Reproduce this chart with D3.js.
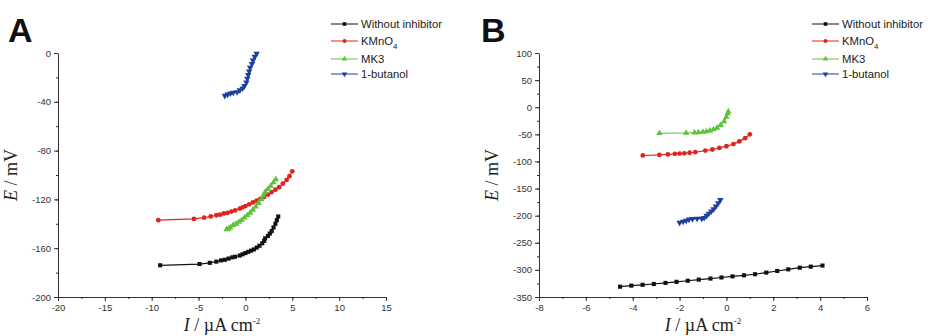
<!DOCTYPE html>
<html>
<head>
<meta charset="utf-8">
<script src="https://cdn.jsdelivr.net/npm/d3@7"></script>
<style>
  body { margin: 0; background: #fff; }
  svg { display: block; }
  .tick text { font-family: "Liberation Sans", Arial, sans-serif; font-size: 9.5px; fill: #333; }
  .axis path, .axis line { stroke: #333; }
  .legend text { font-family: "Liberation Sans", Arial, sans-serif; font-size: 11.3px; fill: #222; }
  .alabel { font-family: "Liberation Serif", "Times New Roman", serif; font-size: 18px; fill: #222; }
  .panel { font-family: "Liberation Sans", Arial, sans-serif; font-weight: bold; font-size: 34px; fill: #111; }
</style>
</head>
<body>
<svg id="chart" width="928" height="336"></svg>
<script>
// series names
const seriesNames = ["Without inhibitor", "KMnO4", "MK3", "1-butanol"]

// panel A data: [I (µA cm-2), E (mV)]
const aBlank = [[-9.1,-174],[-4.9,-173],[-3.8,-172],[-3.1,-171],[-2.6,-170],[-2.2,-169.5],[-1.8,-168.5],[-1.4,-167.5],[-1.1,-167],[-0.6,-166],[-0.3,-165],[0,-164],[0.3,-163],[0.6,-162],[0.9,-161],[1.2,-159.5],[1.5,-158],[1.8,-156],[2.0,-154],[2.1,-152],[2.4,-150],[2.6,-148],[2.8,-146],[3.0,-143],[3.2,-140],[3.35,-137],[3.5,-134]]
const aKMnO4 = [[-9.3,-137],[-5.5,-136],[-4.4,-135],[-3.7,-134],[-3.1,-133],[-2.7,-132.5],[-2.3,-131.5],[-1.9,-131],[-1.5,-130],[-1.1,-129],[-0.6,-127.5],[-0.3,-126.5],[0,-125.5],[0.4,-124],[0.8,-122.5],[1.2,-121],[1.6,-119.5],[2.0,-118],[2.4,-116],[2.8,-114],[3.2,-112],[3.6,-110],[4.0,-107],[4.4,-104],[4.7,-101],[5.0,-97]]
const aMK3 = [[-2.0,-144.5],[-1.8,-144],[-1.6,-143],[-1.3,-141],[-1.0,-140],[-0.7,-138.5],[-0.4,-137],[-0.1,-135],[0.2,-133],[0.5,-131],[0.8,-128.5],[1.1,-126],[1.4,-123],[1.7,-120],[1.9,-117],[2.1,-114],[2.4,-111.5],[2.7,-109],[3.0,-106],[3.25,-103.5]]
const aButanol = [[-2.2,-35],[-1.9,-34],[-1.6,-33],[-1.3,-32.5],[-0.9,-32],[-0.6,-30.5],[-0.3,-29],[-0.1,-27],[0.1,-24],[0.2,-21],[0.3,-18],[0.4,-15],[0.5,-12],[0.7,-9],[0.8,-6],[1.0,-3],[1.2,-0.5]]

// panel B data
const bBlank = [[-4.54,-331],[-4.06,-329],[-3.58,-327.5],[-3.1,-326],[-2.6,-324],[-2.13,-322],[-1.65,-320],[-1.18,-318],[-0.68,-316],[-0.21,-314],[0.26,-312],[0.75,-310],[1.22,-308],[1.7,-305],[2.17,-302],[2.64,-299],[3.13,-296],[3.6,-294],[4.1,-292]]
const bKMnO4 = [[-3.57,-89],[-2.86,-88],[-2.5,-87],[-2.2,-86],[-2.0,-85.5],[-1.8,-85],[-1.57,-84],[-1.33,-83],[-0.9,-80],[-0.6,-78],[-0.3,-75],[0,-72],[0.3,-68],[0.55,-63],[0.8,-57],[1.0,-50]]
const bMK3 = [[-2.86,-48],[-1.72,-47.5],[-1.36,-47],[-1.2,-46.5],[-1.0,-45.5],[-0.85,-44.5],[-0.7,-43],[-0.55,-41],[-0.4,-38],[-0.25,-33],[-0.1,-26],[0,-18],[0.05,-12],[0.08,-8]]
const bButanol = [[-2.0,-213],[-1.85,-211],[-1.72,-209],[-1.6,-207],[-1.45,-206],[-1.25,-205.5],[-1.05,-205.5],[-0.95,-204],[-0.85,-200],[-0.75,-196],[-0.65,-192],[-0.55,-188],[-0.45,-183],[-0.35,-177],[-0.26,-171]]

// axis ticks
const aXTicks = [-20, -15, -10, -5, 0, 5, 10, 15]
const aYTicks = [0, -40, -80, -120, -160, -200]
const bXTicks = [-8, -6, -4, -2, 0, 2, 4, 6]
const bYTicks = [100, 50, 0, -50, -100, -150, -200, -250, -300, -350]

const colors = ["#111111", "#e0241c", "#5ec23e", "#1f3f9c"]
const symbols = [d3.symbolSquare, d3.symbolCircle, d3.symbolTriangle, d3.symbolTriangle]

const svg = d3.select("#chart")
const fmt = (d) => String(d) // plain hyphen minus like the original

function drawPanel(opts) {
  const g = svg.append("g")
  const x = d3.scaleLinear().domain(opts.xDomain).range([opts.left, opts.right])
  const y = d3.scaleLinear().domain(opts.yDomain).range([opts.bottom, opts.top])

  // minor ticks
  const xMinor = d3.range(opts.xDomain[0], opts.xDomain[1] + 1e-9, opts.xStep / 2)
  const yMinor = d3.range(opts.yDomain[0], opts.yDomain[1] + 1e-9, opts.yStep / 2)
  g.append("g")
    .attr("class", "axis")
    .attr("transform", `translate(0,${opts.bottom})`)
    .call(d3.axisBottom(x).tickValues(xMinor).tickSize(2).tickFormat(""))
    .call((s) => s.select(".domain").remove())
  g.append("g")
    .attr("class", "axis")
    .attr("transform", `translate(${opts.left},0)`)
    .call(d3.axisLeft(y).tickValues(yMinor).tickSize(2).tickFormat(""))
    .call((s) => s.select(".domain").remove())

  g.append("g")
    .attr("class", "axis")
    .attr("transform", `translate(0,${opts.bottom})`)
    .call(d3.axisBottom(x).tickValues(opts.xTicks).tickFormat(fmt).tickSize(4).tickSizeOuter(0).tickPadding(3))
  g.append("g")
    .attr("class", "axis")
    .attr("transform", `translate(${opts.left},0)`)
    .call(d3.axisLeft(y).tickValues(opts.yTicks).tickFormat(fmt).tickSize(4).tickSizeOuter(0).tickPadding(3))

  // series
  const line = d3.line().x((d) => x(d[0])).y((d) => y(d[1]))
  opts.series.forEach((data, i) => {
    g.append("path")
      .datum(data)
      .attr("fill", "none")
      .attr("stroke", colors[i])
      .attr("stroke-width", 1.2)
      .attr("d", line)
    g.selectAll(null)
      .data(data)
      .enter()
      .append("path")
      .attr("d", d3.symbol().type(symbols[i]).size(i === 0 ? 17 : 18))
      .attr("fill", colors[i])
      .attr("transform", (d) => `translate(${x(d[0])},${y(d[1])})` + (i === 3 ? " rotate(180)" : ""))
  })

  // axis labels
  const yl = g.append("text")
    .attr("class", "alabel")
    .attr("text-anchor", "middle")
    .attr("transform", `translate(${opts.left - 41},${(opts.top + opts.bottom) / 2}) rotate(-90)`)
  yl.append("tspan").attr("font-style", "italic").text("E")
  yl.append("tspan").text(" / mV")

  const xl = g.append("text")
    .attr("class", "alabel")
    .attr("text-anchor", "middle")
    .attr("x", (opts.left + opts.right) / 2)
    .attr("y", opts.bottom + 34)
  xl.append("tspan").attr("font-style", "italic").text("I")
  xl.append("tspan").text(" / µA cm")
  xl.append("tspan").attr("dy", -7).attr("font-size", 9).text("-2")

  svg.append("text")
    .attr("class", "panel")
    .attr("x", opts.letterX)
    .attr("y", 42)
    .text(opts.letter)

  // legend
  const lg = svg.append("g").attr("class", "legend")
    .attr("transform", `translate(${opts.legendX},24)`)
  const rowY = [0, 17, 35, 50]
  seriesNames.forEach((name, i) => {
    const r = lg.append("g").attr("transform", `translate(0,${rowY[i]})`)
    r.append("line").attr("x1", 0).attr("x2", 27).attr("stroke", colors[i]).attr("stroke-width", 1)
    r.append("path")
      .attr("d", d3.symbol().type(symbols[i]).size(13))
      .attr("fill", colors[i])
      .attr("transform", "translate(13.5,0)" + (i === 3 ? " rotate(180)" : ""))
    const t = r.append("text").attr("x", 30).attr("dy", "0.35em")
    if (name === "KMnO4") {
      t.append("tspan").text("KMnO")
      t.append("tspan").attr("dy", 4).attr("font-size", 8).text("4")
    } else {
      t.text(name)
    }
  })
}

drawPanel({
  xDomain: [-20, 15], yDomain: [-200, 0], xStep: 5, yStep: 40,
  xTicks: aXTicks, yTicks: aYTicks,
  left: 58, right: 386, top: 53, bottom: 297,
  series: [aBlank, aKMnO4, aMK3, aButanol],
  letter: "A", letterX: 8, legendX: 331,
})

drawPanel({
  xDomain: [-8, 6], yDomain: [-350, 100], xStep: 2, yStep: 50,
  xTicks: bXTicks, yTicks: bYTicks,
  left: 539, right: 867, top: 53, bottom: 297,
  series: [bBlank, bKMnO4, bMK3, bButanol],
  letter: "B", letterX: 481, legendX: 812,
})
</script>
</body>
</html>
